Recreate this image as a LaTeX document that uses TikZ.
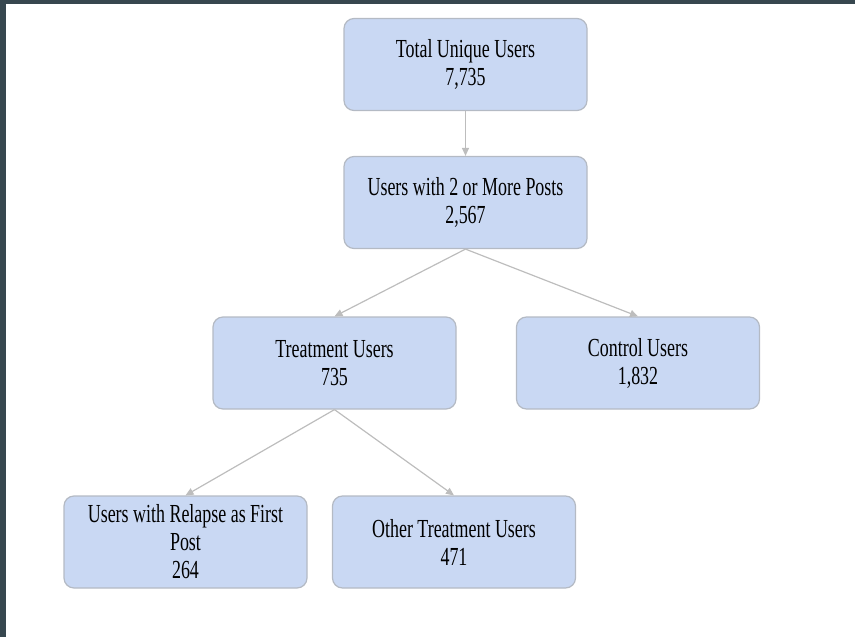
\documentclass[tikz,border=0pt]{standalone}
\usepackage{fontspec}
\usetikzlibrary{arrows.meta}

\newfontfamily\boxfont[FakeStretch=0.69]{Liberation Serif}
\definecolor{boxblue}{HTML}{C9D8F3}
\definecolor{boxline}{HTML}{B4BAC4}
\definecolor{linkgray}{HTML}{BDBDBD}
\definecolor{frameslate}{HTML}{37474F}

\begin{document}
\begin{tikzpicture}[
  x=1pt, y=-1pt,
  usersbox/.style={draw=boxline, fill=boxblue, line width=1.2pt,
    rounded corners=10pt, minimum width=243pt, minimum height=92pt,
    align=center, font={\boxfont\fontsize{26}{28}\selectfont}},
  link/.style={draw=linkgray, line width=1.2pt,
    -{Triangle[length=8pt, width=7pt]}},
]
  \useasboundingbox (0,0) rectangle (855,637);
  \fill[frameslate] (0,0) rectangle (855,4);
  \fill[frameslate] (0,0) rectangle (6,637);

  \node[usersbox] (total) at (465.5,64.5) {Total Unique Users\\7,735};
  \node[usersbox] (multi) at (465.5,202.5) {Users with 2 or More Posts\\2,567};
  \node[usersbox] (treat) at (334.5,363) {Treatment Users\\735};
  \node[usersbox] (control) at (638,363) {Control Users\\1,832};
  \node[usersbox] (relapse) at (185.5,542) {Users with Relapse as First\\Post\\264};
  \node[usersbox] (other) at (454,542) {Other Treatment Users\\471};

  \draw[link] (total.south) -- (multi.north);
  \draw[link] (multi.south) -- (treat.north);
  \draw[link] (multi.south) -- (control.north);
  \draw[link] (treat.south) -- (relapse.north);
  \draw[link] (treat.south) -- (other.north);
\end{tikzpicture}
\end{document}
